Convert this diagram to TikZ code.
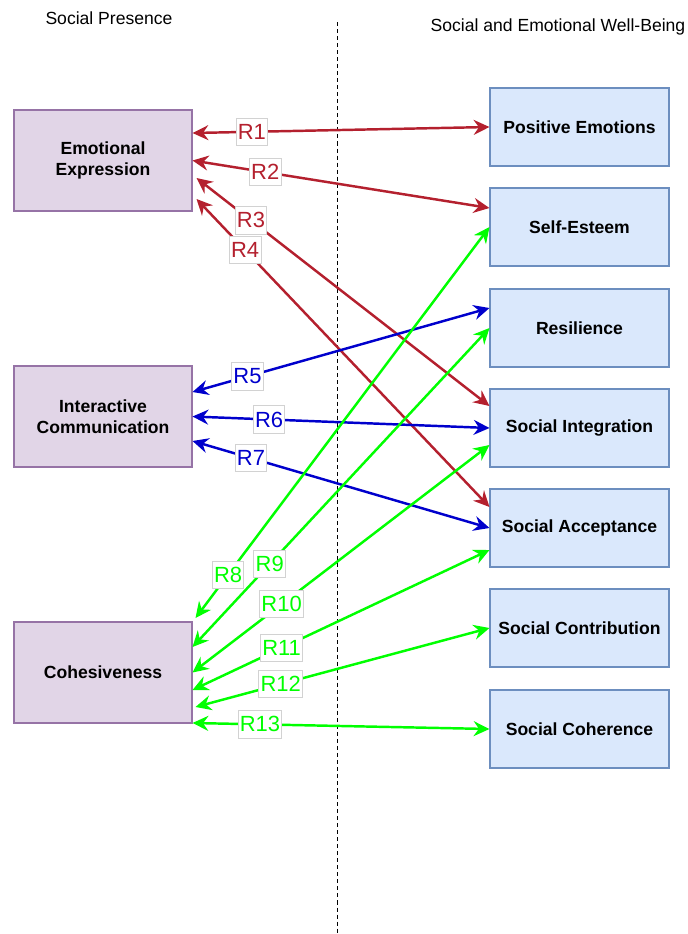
\documentclass[tikz,border=0pt]{standalone}
\usepackage{fontspec}
\setmainfont{Liberation Sans}
\usetikzlibrary{arrows.meta}
\definecolor{relred}{RGB}{180,32,46}
\definecolor{relblue}{RGB}{0,0,204}
\definecolor{relgreen}{RGB}{0,255,0}
\definecolor{spfill}{RGB}{225,213,231}
\definecolor{spdraw}{RGB}{150,115,166}
\definecolor{wbfill}{RGB}{218,232,252}
\definecolor{wbdraw}{RGB}{108,142,191}
\begin{document}
\begin{tikzpicture}[x=0.02cm,y=-0.02cm,
  spbox/.style={draw=spdraw,fill=spfill,line width=0.6pt,minimum width=3.56cm,minimum height=2.02cm,align=center,font=\bfseries\fontsize{10}{12}\selectfont},
  wbbox/.style={draw=wbdraw,fill=wbfill,line width=0.6pt,minimum width=3.58cm,minimum height=1.56cm,align=center,font=\bfseries\fontsize{10}{12}\selectfont},
  rel/.style={{Stealth[length=9pt,width=8.5pt,inset=3pt]}-{Stealth[length=9pt,width=8.5pt,inset=3pt]},line width=1.4pt},
  rlab/.style={fill=white,draw=gray!35,line width=0.5pt,inner xsep=1pt,inner ysep=0pt,minimum height=15.5pt,font=\fontsize{12.5}{13}\selectfont}]
\useasboundingbox (0,0) rectangle (688,934);
\node (sptitle) at (109,18) {\fontsize{10}{12}\selectfont Social Presence};
\node (wbtitle) at (558,27) {\fontsize{10}{12}\selectfont Social and Emotional Well-Being};
\draw[line width=0.5pt,dash pattern=on 2.3pt off 1.7pt] (337,22) -- (337,934);

\node[spbox] (emo) at (103,160.5) {Emotional\\Expression};
\node[spbox] (inter) at (103,416.5) {Interactive\\Communication};
\node[spbox] (cohes) at (103,672.5) {Cohesiveness};

\node[wbbox] (pos) at (579.5,127) {Positive Emotions};
\node[wbbox] (self) at (579.5,227) {Self-Esteem};
\node[wbbox] (resil) at (579.5,328) {Resilience};
\node[wbbox] (integ) at (579.5,428) {Social Integration};
\node[wbbox] (accep) at (579.5,528) {Social Acceptance};
\node[wbbox] (contr) at (579.5,628) {Social Contribution};
\node[wbbox] (coher) at (579.5,729) {Social Coherence};

\draw[rel,relred] ([yshift=0.55cm]emo.east) -- node[rlab,pos=0.2] {R1} (pos.west);
\draw[rel,relred] (emo.east) -- node[rlab,pos=0.245] {R2} ([yshift=0.38cm]self.west);
\draw[rel,relred] ([xshift=0.08cm,yshift=-0.35cm]emo.east) -- node[rlab,pos=0.186] {R3} ([yshift=0.44cm]integ.west);
\draw[rel,relred] ([xshift=0.08cm,yshift=-0.77cm]emo.east) -- node[rlab,pos=0.166] {R4} ([yshift=0.42cm]accep.west);

\draw[rel,relblue] ([yshift=0.49cm]inter.east) -- node[rlab,pos=0.185] {R5} ([yshift=0.4cm]resil.west);
\draw[rel,relblue] (inter.east) -- node[rlab,pos=0.258] {R6} (integ.west);
\draw[rel,relblue] ([yshift=-0.49cm]inter.east) -- node[rlab,pos=0.197] {R7} (accep.west);

\draw[rel,relgreen] ([xshift=0.06cm,yshift=1.09cm]cohes.east) -- node[rlab,pos=0.111] {R8} (self.west);
\draw[rel,relgreen] ([yshift=0.51cm]cohes.east) -- node[rlab,pos=0.26] {R9} (resil.west);
\draw[rel,relgreen] (cohes.east) -- node[rlab,pos=0.3] {R10} ([yshift=-0.34cm]integ.west);
\draw[rel,relgreen] ([yshift=-0.35cm]cohes.east) -- node[rlab,pos=0.3] {R11} ([yshift=-0.44cm]accep.west);
\draw[rel,relgreen] ([xshift=0.06cm,yshift=-0.69cm]cohes.east) -- node[rlab,pos=0.29] {R12} (contr.west);
\draw[rel,relgreen] ([yshift=-1.01cm]cohes.east) -- node[rlab,pos=0.227] {R13} (coher.west);
\end{tikzpicture}
\end{document}
